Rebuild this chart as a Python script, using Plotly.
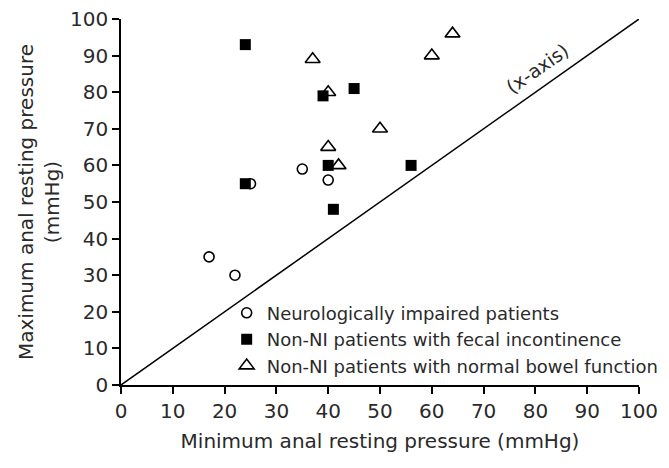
import plotly.graph_objects as go

# Data
ni_x = [17, 22, 25, 35, 40]
ni_y = [35, 30, 55, 59, 56]

fi_x = [24, 24, 39, 45, 40, 41, 56]
fi_y = [93, 55, 79, 81, 60, 48, 60]

nb_x = [37, 40, 60, 64, 50, 40, 42]
nb_y = [89, 80, 90, 96, 70, 65, 60]

ticks = [0, 10, 20, 30, 40, 50, 60, 70, 80, 90, 100]
line_x = [0, 100]
line_y = [0, 100]

FONT = "DejaVu Sans"
TXT = "#2a2a2a"

fig = go.Figure()
fig.add_trace(go.Scatter(x=line_x, y=line_y, mode="lines",
                         line=dict(color="black", width=1.5), showlegend=False,
                         hoverinfo="skip"))
fig.add_trace(go.Scatter(x=ni_x, y=ni_y, mode="markers", name="Neurologically impaired patients",
                         marker=dict(symbol="circle-open", size=10, color="black",
                                     line=dict(width=1.6, color="black"))))
fig.add_trace(go.Scatter(x=fi_x, y=fi_y, mode="markers", name="Non-NI patients with fecal incontinence",
                         marker=dict(symbol="square", size=11, color="black")))
fig.add_trace(go.Scatter(x=nb_x, y=nb_y, mode="markers", name="Non-NI patients with normal bowel function",
                         marker=dict(symbol="triangle-up-open", size=13, color="black",
                                     line=dict(width=1.6, color="black"))))

fig.add_annotation(x=80.5, y=86.5, text="(x-axis)", showarrow=False, textangle=-35,
                   font=dict(family=FONT, size=19, color=TXT))

fig.update_layout(
    width=669, height=468,
    margin=dict(l=113, r=38, t=11, b=91),
    paper_bgcolor="white", plot_bgcolor="white",
    font=dict(family=FONT, size=17, color=TXT),
    legend=dict(x=0.204, y=0.247, xanchor="left", yanchor="top",
                bgcolor="rgba(0,0,0,0)", font=dict(size=18, family=FONT, color=TXT),
                itemwidth=30, tracegroupgap=0),
    xaxis=dict(range=[0, 100], tickvals=ticks, ticks="outside", ticklen=7, tickwidth=1.5,
               tickcolor="black", showline=True, linecolor="black", linewidth=1.5,
               showgrid=False, zeroline=False, ticklabeloverflow="allow", automargin=False,
               title=dict(text="Minimum anal resting pressure (mmHg)", standoff=12,
                          font=dict(size=20, family=FONT, color=TXT)),
               tickfont=dict(size=20, family=FONT, color=TXT)),
    yaxis=dict(range=[0, 100], tickvals=ticks, ticks="outside", ticklen=7, tickwidth=1.5,
               tickcolor="black", showline=True, linecolor="black", linewidth=1.5,
               showgrid=False, zeroline=False, ticklabeloverflow="allow", automargin=False,
               title=dict(text="Maximum anal resting pressure<br>(mmHg)", standoff=5,
                          font=dict(size=20, family=FONT, color=TXT)),
               tickfont=dict(size=20, family=FONT, color=TXT)),
)

fig.write_html("out.html")
